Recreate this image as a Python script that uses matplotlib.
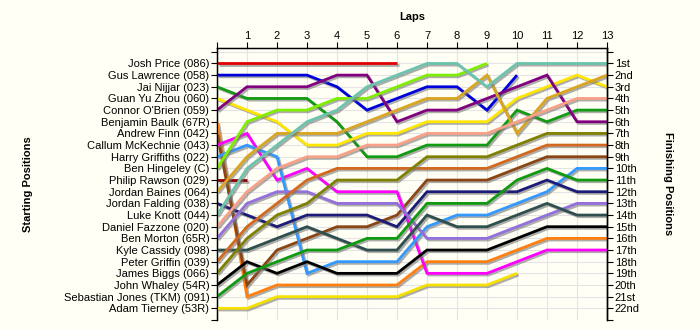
import matplotlib
matplotlib.use("Agg")
import matplotlib.pyplot as plt
import matplotlib.patheffects as pe

# lap chart data: position of each driver after each lap (lap 0 = grid)
drivers = [
    "Josh Price (086)", "Gus Lawrence (058)", "Jai Nijjar (023)", "Guan Yu Zhou (060)",
    "Connor O'Brien (059)", "Benjamin Baulk (67R)", "Andrew Finn (042)",
    "Callum McKechnie (043)", "Harry Griffiths (022)", "Ben Hingeley (C)",
    "Philip Rawson (029)", "Jordan Baines (064)", "Jordan Falding (038)",
    "Luke Knott (044)", "Daniel Fazzone (020)", "Ben Morton (65R)",
    "Kyle Cassidy (098)", "Peter Griffin (039)", "James Biggs (066)",
    "John Whaley (54R)", "Sebastian Jones (TKM) (091)", "Adam Tierney (53R)",
]

positions = [
    [1, 1, 1, 1, 1, 1, 1],
    [2, 2, 2, 2, 3, 5, 4, 3, 3, 5, 2],
    [3, 4, 4, 4, 6, 9, 9, 8, 8, 8, 5, 6, 5, 5],
    [4, 5, 6, 8, 8, 7, 7, 6, 6, 6, 4, 3, 2, 3],
    [5, 3, 3, 3, 2, 2, 6, 5, 5, 4, 3, 2, 6, 6],
    [6, 21, 20, 20, 20, 20, 20, 18, 18, 18, 17, 16, 16, 16],
    [7, 20, 17, 16, 15, 15, 14, 11, 11, 11, 10, 9, 9, 9],
    [8, 7, 11, 10, 12, 12, 12, 19, 19, 19, 18, 17, 17, 17],
    [9, 8, 9, 19, 18, 18, 18, 15, 14, 14, 13, 12, 10, 10],
    [10, 6, 5, 5, 4, 4, 3, 2, 2, 1],
    [11, 11],
    [12, 9, 7, 7, 7, 6, 5, 4, 4, 2, 7, 4, 3, 2],
    [13, 14, 15, 14, 14, 14, 15, 12, 12, 12, 12, 11, 12, 12],
    [14, 10, 8, 6, 5, 3, 2, 1, 1, 3, 1, 1, 1, 1],
    [15, 12, 10, 9, 9, 8, 8, 7, 7, 7, 6, 5, 4, 4],
    [16, 13, 12, 12, 13, 13, 13, 16, 16, 16, 15, 14, 13, 13],
    [17, 17, 16, 15, 16, 17, 17, 14, 15, 15, 14, 13, 14, 14],
    [18, 15, 13, 11, 10, 10, 10, 10, 10, 10, 9, 8, 8, 8],
    [19, 16, 14, 13, 11, 11, 11, 9, 9, 9, 8, 7, 7, 7],
    [20, 18, 19, 18, 19, 19, 19, 17, 17, 17, 16, 15, 15, 15],
    [21, 19, 18, 17, 17, 16, 16, 13, 13, 13, 11, 10, 11, 11],
    [22, 22, 21, 21, 21, 21, 21, 20, 20, 20, 19],
]

colors = [
    "#e00000", "#0000dd", "#129a12", "#ffe600", "#800080", "#ff8010", "#8b4513",
    "#ff00ff", "#3399ff", "#80ee00", "#8b0000", "#daa520", "#1c1c78", "#6cc4ae",
    "#f8a088", "#9370db", "#2f4f4f", "#d2691e", "#808000", "#000000", "#109a10",
    "#f5e000",
]

n_laps = 13
finish_labels = ["1st", "2nd", "3rd"] + [f"{i}th" for i in range(4, 21)] + ["21st", "22nd"]

bg = "#fffff5"
font = "Liberation Sans"
plt.rcParams["font.family"] = font
plt.rcParams["font.size"] = 8

fig = plt.figure(figsize=(7, 3.3), dpi=100, facecolor=bg)
ax = fig.add_axes([217 / 700, 1 - 320 / 330, 390 / 700, (320 - 48.3) / 330])
ax.set_facecolor(bg)

shadow = [pe.SimpleLineShadow(offset=(1.2, -1.2), shadow_color="#777777", alpha=0.6), pe.Normal()]
for name, pos, col in zip(drivers, positions, colors):
    ax.plot(range(len(pos)), pos, color=col, lw=2.0, solid_joinstyle="miter",
            solid_capstyle="butt", path_effects=shadow, zorder=3)

ax.set_xlim(0, n_laps)
ax.set_ylim(23, -0.3)

yt = list(range(0, 24))
ax.set_yticks(yt)
ax.set_yticklabels([""] + drivers + [""])
ax.set_xticks(range(0, n_laps + 1))
ax.set_xticklabels([""] + [str(i) for i in range(1, n_laps + 1)])
ax.xaxis.tick_top()
ax.tick_params(axis="both", length=4, width=0.8, pad=1.5, colors="black")

ax.grid(True, color="#e4e4e4", lw=0.8, zorder=0)
ax.set_axisbelow(True)
for s in ["left", "right", "top"]:
    ax.spines[s].set_linewidth(1.0)
ax.spines["bottom"].set_visible(False)

ax2 = ax.twinx()
ax2.set_ylim(23, -0.3)
ax2.set_yticks(yt)
ax2.set_yticklabels([""] + finish_labels + [""])
ax2.tick_params(axis="y", length=4, width=0.8, pad=1.5)
ax2.spines["bottom"].set_visible(False)
ax2.spines["right"].set_linewidth(1.0)

fig.text(412 / 700, 1 - 17 / 330, "Laps", ha="center", va="center", fontweight="bold", fontsize=8)
fig.text(28 / 700, 1 - 184 / 330, "Starting Positions", ha="center", va="center",
         rotation=90, fontweight="bold", fontsize=8)
fig.text(668 / 700, 1 - 184 / 330, "Finishing Positions", ha="center", va="center",
         rotation=-90, fontweight="bold", fontsize=8)

fig.savefig("out.png", dpi=100, facecolor=bg)
